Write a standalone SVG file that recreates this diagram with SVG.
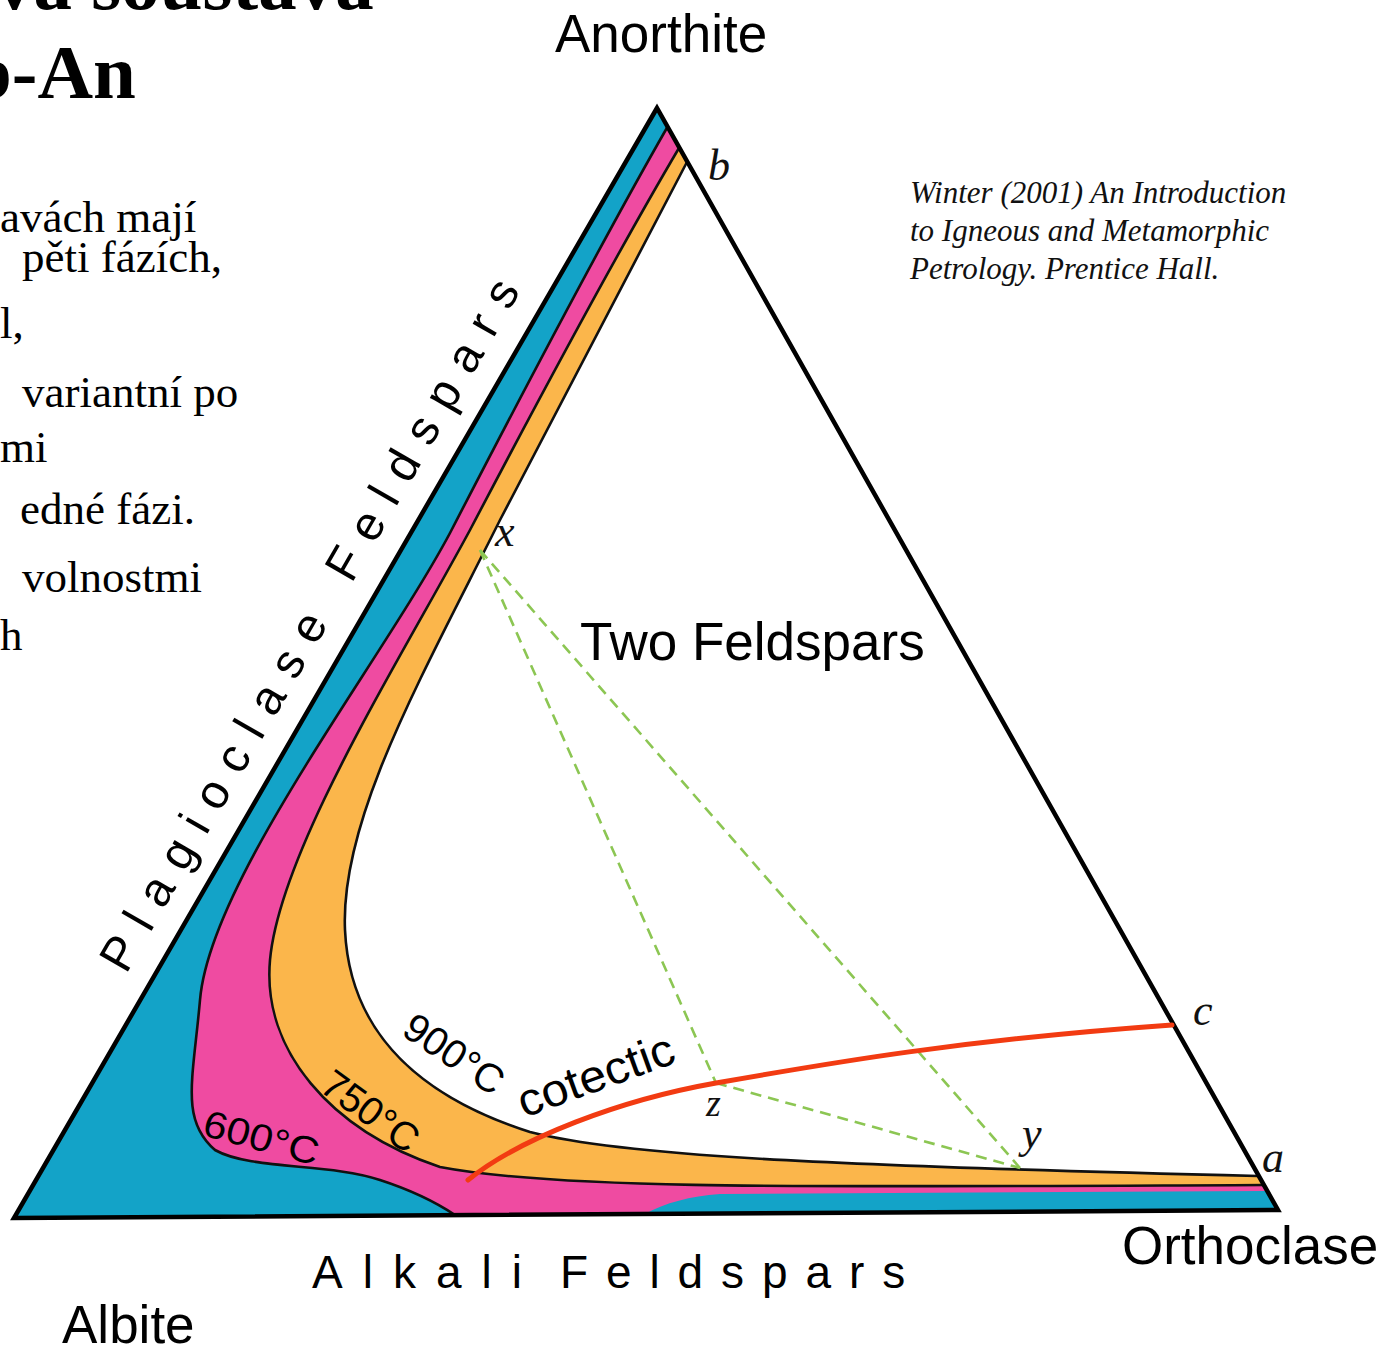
<svg xmlns="http://www.w3.org/2000/svg" width="1387" height="1350" viewBox="0 0 1387 1350">
<style>
.sans{font-family:"Liberation Sans",Arial,sans-serif;fill:#000}
.serif{font-family:"Liberation Serif","Times New Roman",serif;fill:#000}
.it{font-family:"Liberation Serif","Times New Roman",serif;font-style:italic;fill:#111}
.line{fill:none;stroke:#111;stroke-width:2.6;stroke-linejoin:round}
.tie{fill:none;stroke:#8cc653;stroke-width:2.6;stroke-dasharray:11 7}
</style>
<rect width="1387" height="1350" fill="#fff"/>
<g id="slide-text">
<text class="serif" x="-5" y="9" font-size="77" font-weight="bold">va soustava</text>
<text class="serif" x="-31" y="98" font-size="77" font-weight="bold">b-An</text>
<text class="serif" x="0" y="232" font-size="45">avách mají</text>
<text class="serif" x="22" y="272" font-size="45">pěti fázích,</text>
<text class="serif" x="0" y="338" font-size="45">l,</text>
<text class="serif" x="22" y="407" font-size="45">variantní po</text>
<text class="serif" x="0" y="462" font-size="45">mi</text>
<text class="serif" x="20" y="524" font-size="45">edné fázi.</text>
<text class="serif" x="22" y="592" font-size="45">volnostmi</text>
<text class="serif" x="0" y="650" font-size="45">h</text>
</g>
<g id="triangle">
<path id="plag-field" d="M657,108 L14,1218 L1278,1210 Z" fill="#13a3c8"/>
<path id="pink-field" d="M668,126 Q590,262 450,533 C380,664 210,880 200,1000 C193,1080 180,1120 215,1150 C250,1170 330,1163 380,1180 C420,1193 440,1205 455,1215 L645,1214 C665,1203 690,1196 720,1194 L1266,1191 Z" fill="#ef4ba1"/>
<path id="orange-field" d="M679,148 Q600,282 470,530 C400,660 280,850 270,960 C262,1050 330,1130 440,1167 C560,1190 800,1187 1263,1185 Z" fill="#fbb64b"/>
<path id="two-feldspar-field" d="M687,162 L500,520 C420,680 340,820 345,930 C350,1040 430,1100 530,1132 C620,1155 800,1165 1258,1176 Z" fill="#fff"/>
<path id="solvus-600" class="line" d="M668,126 Q590,262 450,533 C380,664 210,880 200,1000 C193,1080 180,1120 215,1150 C250,1170 330,1163 380,1180 C420,1193 440,1205 455,1215"/>
<path id="solvus-750" class="line" d="M679,148 Q600,282 470,530 C400,660 280,850 270,960 C262,1050 330,1130 440,1167 C560,1190 800,1187 1263,1185"/>
<path id="solvus-900" class="line" d="M687,162 L500,520 C420,680 340,820 345,930 C350,1040 430,1100 530,1132 C620,1155 800,1165 1258,1176"/>
<path id="outline" d="M657,108 L14,1218 L1278,1210 Z" fill="none" stroke="#000" stroke-width="4.5" stroke-linejoin="miter"/>
</g>
<g id="connectors">
<line class="tie" x1="480" y1="550" x2="716" y2="1083"/>
<line class="tie" x1="480" y1="550" x2="1020" y2="1168"/>
<line class="tie" x1="716" y1="1083" x2="1020" y2="1168"/>
<path id="cotectic" d="M468,1180 C520,1138 620,1100 716,1083 C830,1063 960,1040 1172,1025" fill="none" stroke="#f23b12" stroke-width="5" stroke-linecap="round"/>
</g>
<g id="labels">
<text class="sans" x="555" y="52" font-size="53">Anorthite</text>
<text class="sans" x="1122" y="1264" font-size="53">Orthoclase</text>
<text class="sans" x="62" y="1343" font-size="53">Albite</text>
<text class="sans" x="580" y="660" font-size="53">Two Feldspars</text>
<text class="sans" x="312" y="1288" font-size="46" letter-spacing="20">Alkali</text>
<text class="sans" x="560" y="1288" font-size="46" letter-spacing="17.9">Feldspars</text>
<text class="sans" transform="translate(126,975) rotate(-60)" font-size="48" textLength="790" lengthAdjust="spacing">Plagioclase Feldspars</text>
<text class="sans" transform="translate(400,1034) rotate(34)" font-size="40" textLength="112" lengthAdjust="spacingAndGlyphs">900°C</text>
<text class="sans" transform="translate(318,1090) rotate(36)" font-size="40" textLength="110" lengthAdjust="spacingAndGlyphs">750°C</text>
<text class="sans" transform="translate(201,1135) rotate(15)" font-size="38" textLength="118" lengthAdjust="spacingAndGlyphs">600°C</text>
<text class="sans" transform="translate(524,1118) rotate(-20)" font-size="46" textLength="164" lengthAdjust="spacingAndGlyphs">cotectic</text>
<text class="it" x="708" y="180" font-size="44">b</text>
<text class="it" x="1193" y="1025" font-size="44">c</text>
<text class="it" x="1262" y="1172" font-size="44">a</text>
<text class="it" x="495" y="546" font-size="44">x</text>
<text class="it" x="706" y="1116" font-size="38">z</text>
<text class="it" x="1022" y="1148" font-size="44">y</text>
<text class="it" x="910" y="203" font-size="31">Winter (2001) An Introduction</text>
<text class="it" x="910" y="241" font-size="31">to Igneous and Metamorphic</text>
<text class="it" x="910" y="279" font-size="31">Petrology. Prentice Hall.</text>
</g>
</svg>
